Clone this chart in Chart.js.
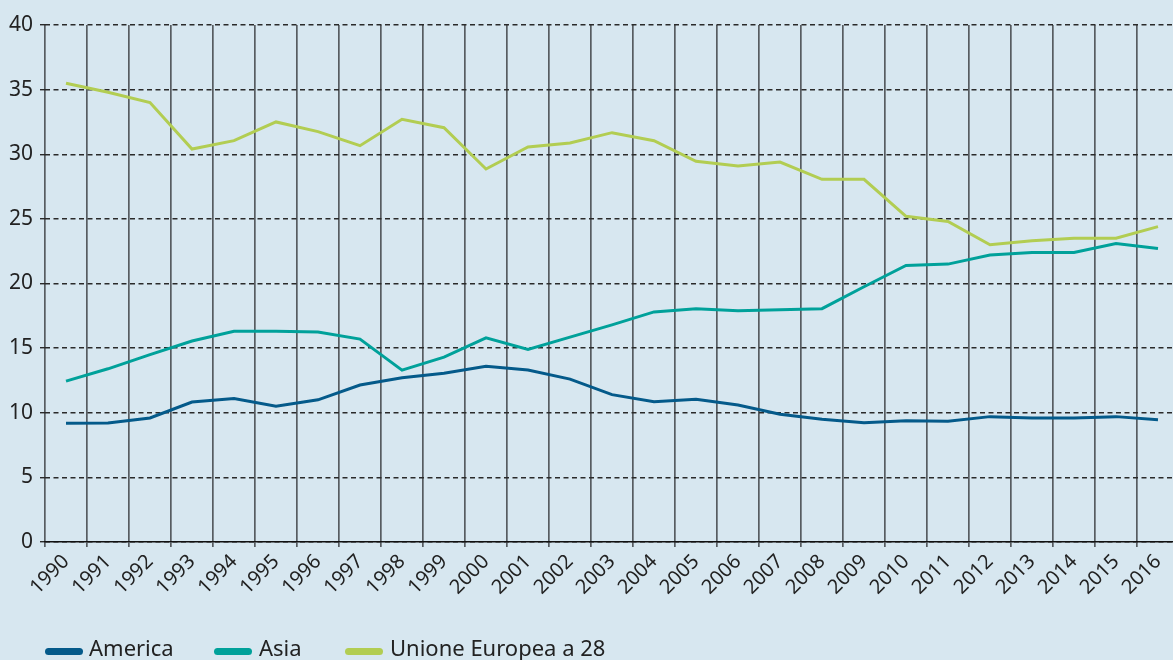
<!DOCTYPE html>
<html>
<head>
<meta charset="utf-8">
<script src="https://cdn.jsdelivr.net/npm/chart.js@4.4.1/dist/chart.umd.min.js"></script>
<style>
  html, body { margin: 0; padding: 0; background: #d7e7f0; overflow: hidden; }
  body { width: 1173px; height: 660px; position: relative; font-family: "Noto Sans", sans-serif; }
  #wrap { position: absolute; left: 0; top: 0; width: 1179px; height: 660px; }
  .sw { position: absolute; top: 648px; width: 38px; height: 7px; border-radius: 3.5px; }
  .lab { position: absolute; top: 637px; font-size: 22px; line-height: 21px; color: #222; white-space: nowrap; }
</style>
</head>
<body>
<div id="wrap"><canvas id="myChart"></canvas></div>
<div class="sw" style="left:45px;background:#045a8a"></div><div class="lab" style="left:89px">America</div>
<div class="sw" style="left:214px;background:#00a19a"></div><div class="lab" style="left:259px">Asia</div>
<div class="sw" style="left:345px;background:#b2cd52"></div><div class="lab" style="left:390px">Unione Europea a 28</div>
<script>
// anni
const years = ['1990','1991','1992','1993','1994','1995','1996','1997','1998','1999','2000','2001','2002','2003',
    '2004','2005','2006','2007','2008','2009','2010','2011','2012','2013','2014','2015','2016'];

const america = [9.18, 9.2, 9.6, 10.83, 11.1, 10.5, 11.0, 12.15, 12.7, 13.05, 13.6, 13.3, 12.6, 11.4,
    10.85, 11.04, 10.6, 9.88, 9.49, 9.23, 9.39, 9.35, 9.7, 9.6, 9.6, 9.7, 9.45];
const asia = [12.45, 13.4, 14.5, 15.55, 16.3, 16.3, 16.25, 15.7, 13.3, 14.3, 15.8, 14.9, 15.85, 16.8,
    17.8, 18.05, 17.9, 17.97, 18.05, 19.75, 21.4, 21.5, 22.2, 22.4, 22.4, 23.1, 22.7];
const ue28 = [35.5, 34.8, 34.0, 30.4, 31.05, 32.5, 31.75, 30.66, 32.7, 32.05, 28.86, 30.56, 30.87, 31.67,
    31.05, 29.45, 29.1, 29.4, 28.06, 28.06, 25.2, 24.8, 23.0, 23.3, 23.5, 23.5, 24.4];

const yTicks = [0, 5, 10, 15, 20, 25, 30, 35, 40];

const ctx = document.getElementById('myChart').getContext('2d');
const myChart = new Chart(ctx, {
    type: 'line',
    data: {
        labels: years,
        datasets: [
            { label: 'America', data: america, borderColor: '#045a8a', backgroundColor: '#045a8a' },
            { label: 'Asia', data: asia, borderColor: '#00a19a', backgroundColor: '#00a19a' },
            { label: 'Unione Europea a 28', data: ue28, borderColor: '#b2cd52', backgroundColor: '#b2cd52' }
        ]
    },
    options: {
        responsive: true,
        maintainAspectRatio: false,
        animation: false,
        layout: { padding: { top: 25, right: 0, bottom: 48, left: 0 } },
        elements: {
            line: { borderWidth: 3, tension: 0 },
            point: { radius: 0 }
        },
        plugins: {
            legend: { display: false },
            tooltip: { enabled: false }
        },
        scales: {
            x: {
                offset: true,
                grid: { offset: true, color: '#575c61', lineWidth: 1.7, tickLength: 5, tickColor: '#575c61' },
                border: { display: true, color: '#111', width: 1.6 },
                ticks: {
                    minRotation: 45, maxRotation: 45, padding: 3,
                    color: '#222', font: { family: 'Noto Sans', size: 20 }
                },
                afterFit: function (scale) { scale.height = 70; }
            },
            y: {
                min: 0, max: 40,
                afterBuildTicks: function (scale) { scale.ticks = yTicks.map(v => ({ value: v })); },
                grid: { color: '#2a2a2a', lineWidth: 1.4, tickLength: 5, tickColor: '#2a2a2a' },
                border: { display: false, dash: [5, 3.5] },
                ticks: { padding: 7, color: '#222', font: { family: 'Noto Sans', size: 21 } },
                afterFit: function (scale) { scale.width = 45; }
            }
        }
    }
});
</script>
</body>
</html>
